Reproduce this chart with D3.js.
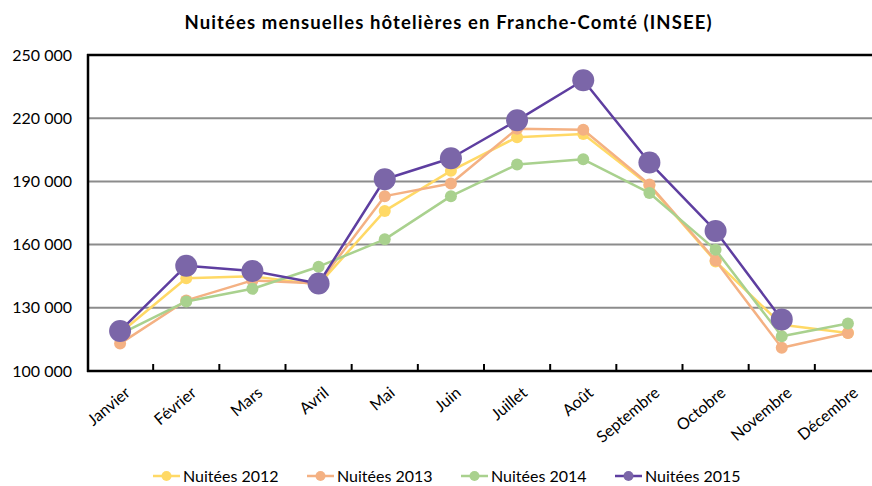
<!DOCTYPE html>
<html>
<head>
<meta charset="utf-8">
<script src="https://cdn.jsdelivr.net/npm/d3@7"></script>
<style>
  body { margin: 0; background: #fff; }
  svg { font-family: Lato, "Open Sans", sans-serif; }
</style>
</head>
<body>
<div id="chart"></div>
<script>
// data
var months = ["Janvier", "Février", "Mars", "Avril", "Mai", "Juin", "Juillet", "Août",
              "Septembre", "Octobre", "Novembre", "Décembre"];
var nuitees2012 = [118000, 144000, 145000, 141000, 176000, 195000, 211000, 212500, 188000, 152000, 122000, 118000];
var nuitees2013 = [113000, 133500, 143000, 141500, 183000, 189000, 215000, 214500, 188500, 152500, 111000, 118000];
var nuitees2014 = [117500, 133000, 139000, 149500, 162500, 183000, 198000, 200500, 184500, 157500, 116500, 122500];
var nuitees2015 = [119000, 150000, 147500, 141500, 191000, 201000, 219000, 238000, 199000, 166500, 124500];
var yTicks = [100000, 130000, 160000, 190000, 220000, 250000];

var series = [
  {name: "Nuitées 2012", values: nuitees2012, color: "#ffd966", line: "#ffd966", r: 6, w: 2.5},
  {name: "Nuitées 2013", values: nuitees2013, color: "#f4b183", line: "#f4b183", r: 6, w: 2.5},
  {name: "Nuitées 2014", values: nuitees2014, color: "#a9d18e", line: "#a9d18e", r: 6, w: 2.5},
  {name: "Nuitées 2015", values: nuitees2015, color: "#7b66a8", line: "#5e3ea0", r: 11, w: 2.5}
];

// dimensions
var W = 872, H = 486;

var svg = d3.select("#chart").append("svg")
    .attr("width", W)
    .attr("height", H);

var x = d3.scaleBand().domain(months).range([87, 881]);
var y = d3.scaleLinear().domain([100000, 250000]).range([371, 55]);

var fmt = function(d) { return d3.format(",")(d).replace(/,/g, " "); };

// gridlines
svg.append("g")
  .selectAll("line")
  .data(yTicks.slice(1, -1))
  .join("line")
    .attr("x1", 87).attr("x2", W)
    .attr("y1", function(d) { return y(d); })
    .attr("y2", function(d) { return y(d); })
    .attr("stroke", "#8c8c8c")
    .attr("stroke-width", 2);

// frame: top and left
svg.append("line").attr("x1", 87).attr("x2", W).attr("y1", 55).attr("y2", 55)
    .attr("stroke", "#000").attr("stroke-width", 2.5);
svg.append("line").attr("x1", 88).attr("x2", 88).attr("y1", 54).attr("y2", 372)
    .attr("stroke", "#000").attr("stroke-width", 2.5);

// y axis labels
svg.append("g")
  .selectAll("text")
  .data(yTicks)
  .join("text")
    .attr("x", 72)
    .attr("y", function(d) { return y(d); })
    .attr("dy", "0.35em")
    .attr("text-anchor", "end")
    .attr("font-size", 16)
    .attr("fill", "#000")
    .text(fmt);

// x axis
var xAxis = svg.append("g")
    .attr("transform", "translate(0,371)")
    .call(d3.axisBottom(x).tickSize(0).tickFormat(""));
xAxis.select(".domain").attr("stroke", "#000").attr("stroke-width", 2.5)
    .attr("d", "M87,0H" + W);
xAxis.selectAll(".tick").remove();

// tick marks between categories
svg.append("g")
  .selectAll("line")
  .data(months.slice(1))
  .join("line")
    .attr("x1", function(d) { return x(d); })
    .attr("x2", function(d) { return x(d); })
    .attr("y1", 364).attr("y2", 371)
    .attr("stroke", "#000").attr("stroke-width", 2);

// month labels, rotated
svg.append("g")
  .selectAll("text")
  .data(months)
  .join("text")
    .attr("transform", function(d) {
      return "translate(" + (x(d) + x.bandwidth() / 2 + 4) + ",386) rotate(-40)";
    })
    .attr("text-anchor", "end")
    .attr("dy", "0.7em")
    .attr("font-size", 16)
    .attr("fill", "#000")
    .text(function(d) { return d; });

// lines and points
var line = d3.line()
    .x(function(d, i) { return x(months[i]) + x.bandwidth() / 2; })
    .y(function(d) { return y(d); });

series.forEach(function(s) {
  var g = svg.append("g");
  g.append("path")
      .datum(s.values)
      .attr("fill", "none")
      .attr("stroke", s.line)
      .attr("stroke-width", s.w)
      .attr("stroke-linejoin", "round")
      .attr("d", line);
  g.selectAll("circle")
    .data(s.values)
    .join("circle")
      .attr("cx", function(d, i) { return x(months[i]) + x.bandwidth() / 2; })
      .attr("cy", function(d) { return y(d); })
      .attr("r", s.r)
      .attr("fill", s.color);
});

// title
svg.append("text")
    .attr("x", 448)
    .attr("y", 29)
    .attr("text-anchor", "middle")
    .attr("font-size", 18.5)
    .attr("font-weight", "bold")
    .attr("textLength", 527)
    .attr("lengthAdjust", "spacing")
    .attr("fill", "#000")
    .text("Nuitées mensuelles hôtelières en Franche-Comté (INSEE)");

// legend
var legX = [153, 307, 461, 615];
var legend = svg.append("g")
  .selectAll("g")
  .data(series)
  .join("g")
    .attr("transform", function(d, i) { return "translate(" + legX[i] + ",476)"; });
legend.append("line")
    .attr("x1", 0).attr("x2", 27)
    .attr("stroke", function(d) { return d.line; })
    .attr("stroke-width", 2.5);
legend.append("circle")
    .attr("cx", 13.5).attr("r", 5)
    .attr("fill", function(d) { return d.color; });
legend.append("text")
    .attr("x", 30)
    .attr("dy", "0.35em")
    .attr("font-size", 16)
    .attr("fill", "#000")
    .text(function(d) { return d.name; });
</script>
</body>
</html>
